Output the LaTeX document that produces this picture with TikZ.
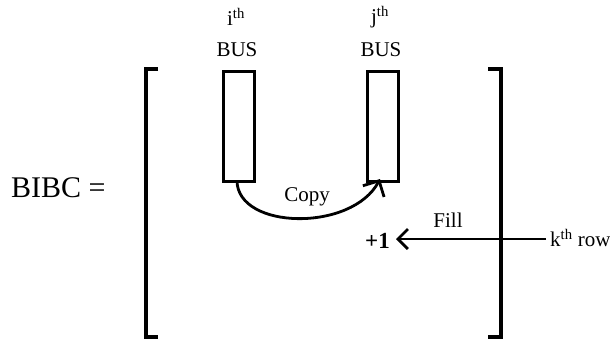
\documentclass[tikz,border=0pt]{standalone}
\usepackage{fontspec}
\setmainfont{Liberation Serif}
\usetikzlibrary{arrows.meta}
\begin{document}
\begin{tikzpicture}[x=1pt,y=-1pt,
  bracket/.style={line width=3.6pt},
  busbox/.style={draw,line width=2.6pt,minimum width=31pt,minimum height=110pt,inner sep=0pt,anchor=north west},
  lbl/.style={font=\fontsize{21}{23}\selectfont,inner sep=0pt},
  flow/.style={line width=2.8pt,-{Straight Barb[length=10pt,width=20pt,line width=2.8pt]}},
  copyflow/.style={line width=2.8pt,-{Straight Barb[length=12pt,width=24pt,line width=2.8pt]}}]
  \useasboundingbox (0,0) rectangle (610,341);
  % left-hand side
  \node[font=\fontsize{30}{33}\selectfont,inner sep=0pt,anchor=west] (lhs) at (11,188) {BIBC =};
  % matrix brackets
  \draw[bracket] (158,69) -- (146,69) -- (146,337) -- (158,337);
  \draw[bracket] (488,69) -- (501,69) -- (501,337) -- (488,337);
  % bus columns
  \node[busbox] (bi) at (222,70) {};
  \node[busbox] (bj) at (366,70) {};
  \node[lbl] (ti) at (236,17) {i\textsuperscript{th}};
  \node[lbl] (bui) at (237,50) {BUS};
  \node[lbl] (tj) at (380,17) {j\textsuperscript{th}};
  \node[lbl] (buj) at (381,50) {BUS};
  % copy arc from column i to column j
  \coordinate (cs) at (237,181);
  \coordinate (ce) at (380,179);
  \draw[copyflow] (cs) .. controls (238,230) and (352,232) .. (ce);
  \node[lbl] (copy) at (307,197) {Copy};
  % fill arrow along row k
  \node[lbl,font=\fontsize{23}{25}\selectfont\bfseries,anchor=east] (one) at (390,241) {+1};
  \node[lbl,anchor=west] (krow) at (550,238) {k\textsuperscript{th} row};
  \coordinate (kend) at (546,239);
  \coordinate (ktip) at (396,239);
  \draw[flow] (kend) -- (ktip);
  \node[lbl] (fill) at (448,220) {Fill};
\end{tikzpicture}
\end{document}
